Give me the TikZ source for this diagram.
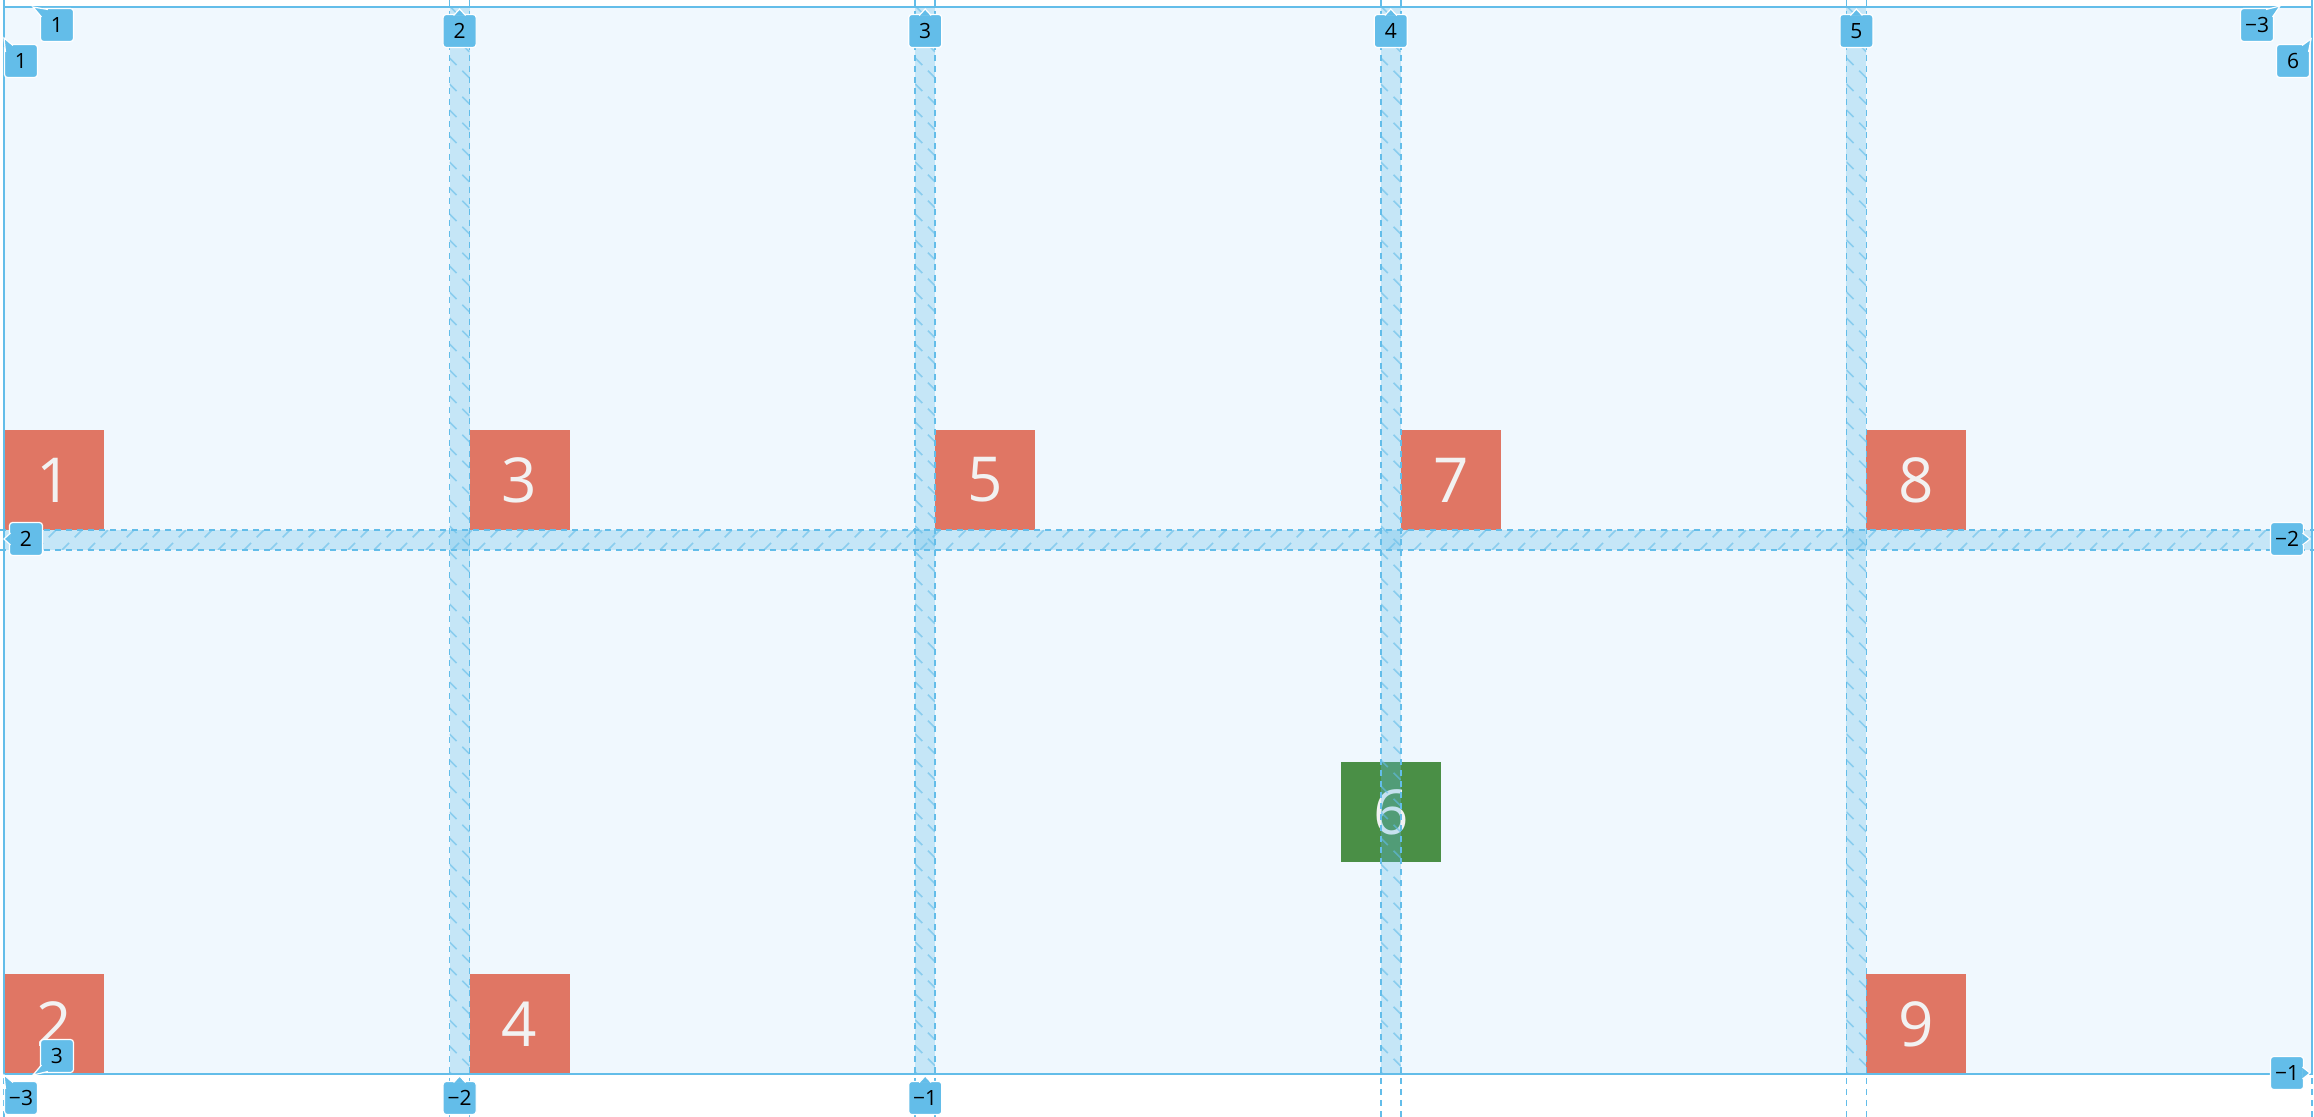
\documentclass[tikz,border=0pt]{standalone}
\usepackage{fontspec}
\setmainfont{Open Sans}
\usepackage{tikz}
\usetikzlibrary{positioning}
\definecolor{gridblue}{HTML}{63BDE9}
\definecolor{gridback}{HTML}{F0F8FE}
\definecolor{itemred}{HTML}{E07664}
\definecolor{itemgreen}{HTML}{4A8F46}
\definecolor{itemtext}{HTML}{F2F2F2}

\begin{document}
\begin{tikzpicture}[%
    x=0.5pt,
    y=-0.5pt,
    item/.style={%
      rectangle,
      fill=itemred,
      minimum size=50pt,
      inner sep=0pt,
      text=itemtext,
      font=\fontsize{31}{31}\selectfont
    },
    linelabel/.style={%
      rectangle,
      rounded corners=1.5pt,
      fill=gridblue,
      draw=white,
      line width=0.6pt,
      minimum size=16.5pt,
      inner sep=0pt,
      text=black,
      font=\fontsize{10.5}{10.5}\selectfont
    },
    labeltip/.style={fill=gridblue, draw=white, line width=0.6pt},
    gapband/.style={fill=gridblue, fill opacity=0.3},
    gapedge/.style={draw=gridblue, line width=0.8pt, dash pattern=on 3pt off 2.5pt},
    hatch/.style={draw=gridblue, draw opacity=0.6, line width=0.8pt, dash pattern=on 5pt off 4pt}
  ]
    \useasboundingbox (0,0) rectangle (2314,1117);
    \fill[gridback] (4,7.5) rectangle (2312,1074);

    \node[item] (i1) at (54,480)     {1};
    \node[item] (i3) at (519.6,480)  {3};
    \node[item] (i5) at (985.2,480)  {5};
    \node[item] (i7) at (1450.8,480) {7};
    \node[item] (i8) at (1916.4,480) {8};
    \node[item] (i2) at (54,1024)     {2};
    \node[item] (i4) at (519.6,1024)  {4};
    \node[item] (i9) at (1916.4,1024) {9};
    \node[item, fill=itemgreen] (i6) at (1390.8,812) {6};

    \fill[gapband] (4,530) rectangle (2312,550);
    \foreach \gx in {449.6,915.2,1380.8,1846.4} {
      \fill[gapband] (\gx,7.5) rectangle (\gx+20,1074);
      \begin{scope}
        \clip (\gx,7.5) rectangle (\gx+20,1074);
        \foreach \hy in {-20,6,...,1080}
          \draw[hatch] (\gx,\hy) -- ++(20,20);
      \end{scope}
      \draw[gapedge] (\gx,0) -- (\gx,1117) (\gx+20,0) -- (\gx+20,1117);
    }
    \begin{scope}
      \clip (4,530) rectangle (2312,550);
      \foreach \hx in {-16,10,...,2320}
        \draw[hatch] (\hx,550) -- ++(20,-20);
    \end{scope}
    \draw[gapedge] (0,530) -- (2314,530) (0,550) -- (2314,550);
    \draw[gapedge] (4,0) -- (4,1117) (2312,0) -- (2312,1117);
    \draw[draw=gridblue, line width=1pt] (4,7.5) rectangle (2312,1074);

    \node[linelabel] (ctop1) at (57,25) {1};
    \path[labeltip] (48,9.5) -- (33,7) -- (41.5,17);
    \foreach \n/\gx in {2/449.6,3/915.2,4/1380.8,5/1846.4} {
      \node[linelabel] (ctop\n) at (\gx+10,31) {\n};
      \path[labeltip] (\gx+4,15.5) -- (\gx+10,9) -- (\gx+16,15.5);
    }
    \node[linelabel] (ctop6) at (2293,61) {6};
    \path[labeltip] (2302,45.5) -- (2311,39) -- (2308.5,52);

    \node[linelabel] (rleft1) at (21,61) {1};
    \path[labeltip] (5.5,52) -- (4,38) -- (13,45.5);
    \node[linelabel] (rleft2) at (26,539) {2};
    \path[labeltip] (10.5,533) -- (4,539) -- (10.5,545);
    \node[linelabel] (rleft3) at (57,1056) {3};
    \path[labeltip] (41.5,1065) -- (33,1075) -- (48,1071.5);

    \node[linelabel] (rright3) at (2257,25) {−3};
    \path[labeltip] (2266,9.5) -- (2280,6) -- (2272.5,17);
    \node[linelabel] (rright2) at (2287,539) {−2};
    \path[labeltip] (2302.5,533) -- (2310,539) -- (2302.5,545);
    \node[linelabel] (rright1) at (2287,1073) {−1};
    \path[labeltip] (2302.5,1067) -- (2310,1073) -- (2302.5,1079);

    \node[linelabel] (cbot3) at (21,1098) {−3};
    \path[labeltip] (5.5,1089) -- (4,1075) -- (13,1082.5);
    \foreach \n/\gx in {2/449.6,1/915.2} {
      \node[linelabel] (cbot\n) at (\gx+10,1098) {−\n};
      \path[labeltip] (\gx+4,1082.5) -- (\gx+10,1076) -- (\gx+16,1082.5);
    }
  \end{tikzpicture}
\end{document}
